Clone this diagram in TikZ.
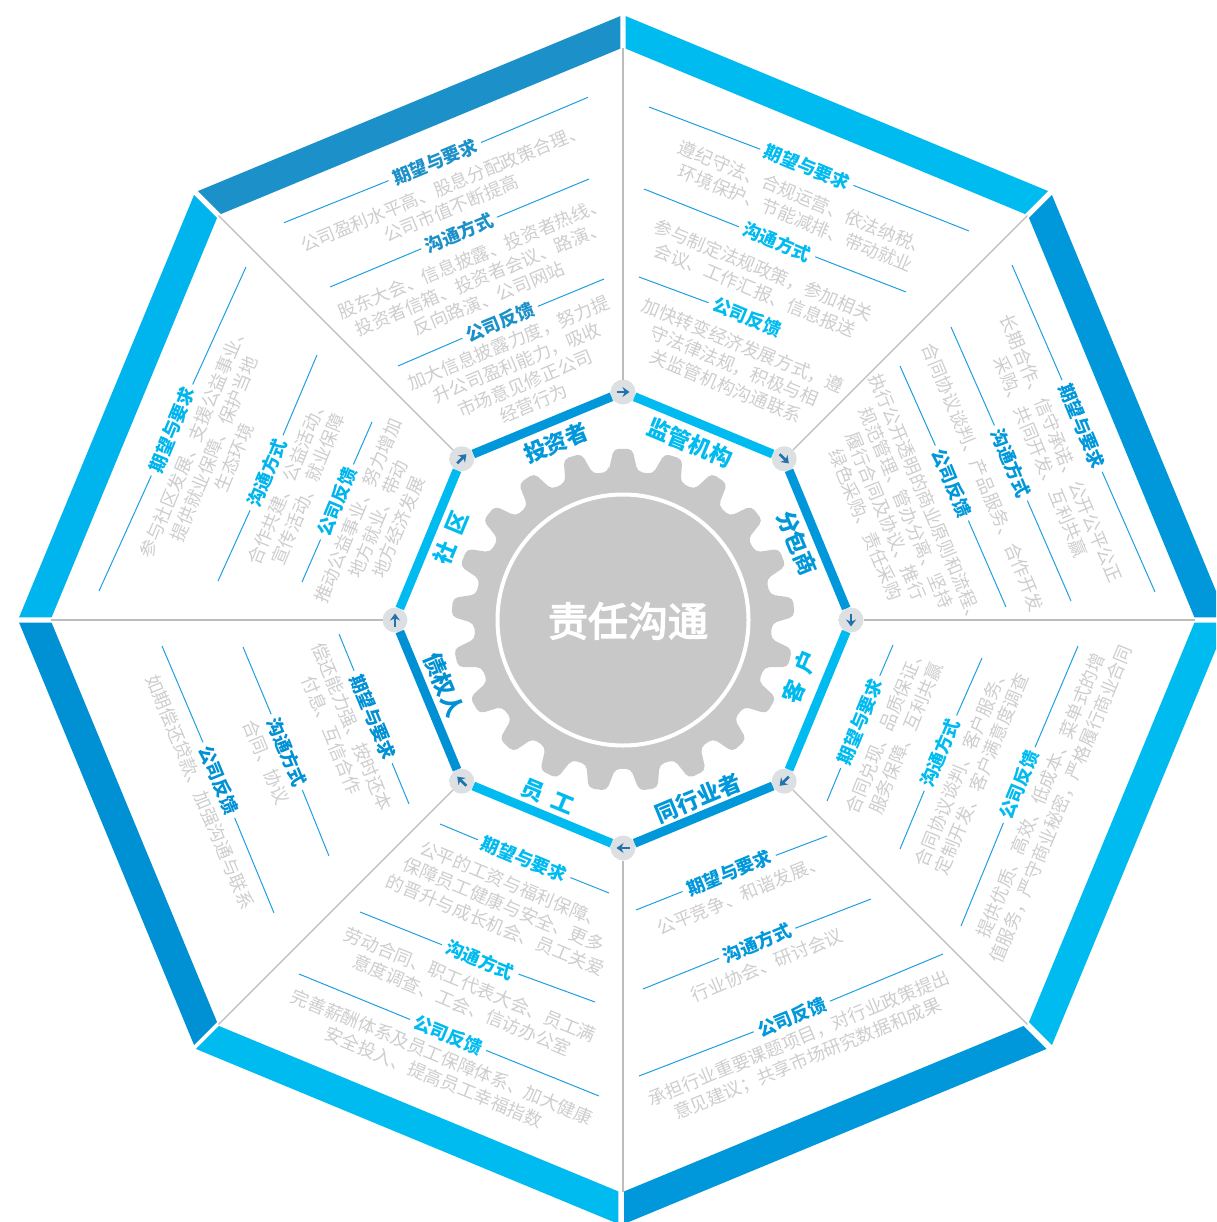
\documentclass[tikz,border=0pt]{standalone}
\usepackage{fontspec}
\usetikzlibrary{calc,arrows.meta}
\setmainfont{Noto Sans CJK SC}
\newfontfamily\cjkmed[FakeBold=3.5]{Noto Sans CJK SC}
\definecolor{cyanband}{HTML}{00BBF0}
\definecolor{blueband}{HTML}{0098DA}
\definecolor{creditband}{HTML}{0090D4}
\definecolor{commband}{HTML}{00B4EE}
\definecolor{investband}{HTML}{1C90C8}
\definecolor{rulecol}{HTML}{1E9FE0}
\definecolor{bodycol}{HTML}{CDCDCD}
\definecolor{spokecol}{HTML}{BDBDBD}
\definecolor{gearcol}{HTML}{C8C8C8}
\definecolor{arrowcol}{HTML}{2272AB}
\definecolor{nbgray}{HTML}{DDE0E3}
\definecolor{nbmid}{HTML}{F0F1F2}
\pgfdeclareradialshading{nodeball}{\pgfpointorigin}{color(0bp)=(nbgray);color(34bp)=(nbgray);color(41bp)=(nbmid);color(50bp)=(white)}
\tikzset{
  headtxt/.style={font=\fontsize{18}{20}\selectfont\bfseries,inner sep=0pt,outer sep=5pt},
  bodytxt/.style={font=\fontsize{18}{22}\selectfont,text=bodycol,align=center,inner sep=0pt},
  rulelin/.style={draw=rulecol,line width=1pt},
  spokelin/.style={draw=spokecol,line width=1.2pt},
  ballnode/.style={circle,shade,shading=nodeball,minimum size=25pt,inner sep=0pt,outer sep=0pt},
  arrowmk/.style={draw=arrowcol,line width=2.6pt,-{Stealth[length=7pt,width=10pt]}},
  stake/.style={font=\fontsize{22.5}{24}\selectfont\bfseries,inner sep=0pt},
  thinband/.style={line width=9pt}
}
\newcommand{\blk}[9]{%
  \node[headtxt,rotate=#2,text=#3] (#1) at (#4) {#5};
  \node[bodytxt,rotate=#2] (#1t) at (#6) {#7};
  \coordinate (#1a) at (#8);
  \coordinate (#1b) at (#9);
  \draw[rulelin] (#1a) -- (#1);
  \draw[rulelin] (#1b) -- (#1);
}
\newcommand{\ringband}[3]{%
  \pgfmathsetmacro{\ta}{-90+45*#1}
  \pgfmathsetmacro{\tb}{\ta+45}
  \coordinate (oa) at ([xshift=#3]\ta:605);
  \coordinate (ob) at ([xshift=#3]\tb:605);
  \coordinate (ia) at ([xshift=#3]\ta:572.5);
  \coordinate (ib) at ([xshift=#3]\tb:572.5);
  \fill[#2] ($(oa)!2.9pt!(ob)$) -- ($(ob)!2.9pt!(oa)$) -- ($(ib)!2.9pt!(ia)$) -- ($(ia)!2.9pt!(ib)$) -- cycle;
}
\begin{document}
\begin{tikzpicture}[x=1pt,y=-1pt]
\useasboundingbox (0,0) rectangle (1216,1222);
\clip (0,0) rectangle (1216,1222);
\begin{scope}[shift={(623,620)}]
  \ringband{0}{cyanband}{0pt}
  \ringband{1}{blueband}{0pt}
  \ringband{2}{cyanband}{0pt}
  \ringband{3}{blueband}{-1.5pt}
  \ringband{4}{cyanband}{-2pt}
  \ringband{5}{creditband}{0pt}
  \ringband{6}{commband}{0pt}
  \ringband{7}{investband}{0pt}
  % gear
  \fill[gearcol,rounded corners=5pt] (-95.6:149)
    \foreach \i [evaluate=\i as \a using -90+\i*360/21] in {0,...,20}{
      -- (\a-5.6:149) -- (\a-3.1:171.5) -- (\a+3.1:171.5) -- (\a+5.6:149)
    } -- cycle;
  \draw[white,line width=4pt] (0,0) circle (125.5);
  % nodes on the inner ring
  \node[ballnode] (n0) at (-90:228) {};
  \node[ballnode] (n1) at (-45:228) {};
  \node[ballnode] (n2) at (0:228) {};
  \node[ballnode] (n3) at (45:228) {};
  \node[ballnode] (n4) at (90:228) {};
  \node[ballnode] (n5) at (135:228) {};
  \node[ballnode] (n6) at (180:228) {};
  \node[ballnode] (n7) at (225:228) {};
  % spoke ends
  \coordinate (s0) at (-90:572);
  \coordinate (s1) at (-45:572);
  \coordinate (s2) at (0:572);
  \coordinate (s3) at (45:572);
  \coordinate (s4) at (90:572);
  \coordinate (s5) at (135:572);
  \coordinate (s6) at (180:572);
  \coordinate (s7) at (225:572);
\end{scope}
\foreach \k in {0,...,7}{\draw[spokelin] (n\k) -- (s\k);}
% inner ring connectors
\draw[thinband,cyanband] (n0) -- (n1);
\draw[thinband,blueband] (n1) -- (n2);
\draw[thinband,cyanband] (n2) -- (n3);
\draw[thinband,blueband] (n3) -- (n4);
\draw[thinband,cyanband] (n4) -- (n5);
\draw[thinband,creditband] (n5) -- (n6);
\draw[thinband,cyanband] (n6) -- (n7);
\draw[thinband,blueband] (n7) -- (n0);
% arrows in the nodes
\draw[arrowmk] ([shift={(180:6.5)}]n0.center) -- ([shift={(0:6.5)}]n0.center);
\draw[arrowmk] ([shift={(225:6.5)}]n1.center) -- ([shift={(45:6.5)}]n1.center);
\draw[arrowmk] ([shift={(270:6.5)}]n2.center) -- ([shift={(90:6.5)}]n2.center);
\draw[arrowmk] ([shift={(315:6.5)}]n3.center) -- ([shift={(135:6.5)}]n3.center);
\draw[arrowmk] ([shift={(0:6.5)}]n4.center) -- ([shift={(180:6.5)}]n4.center);
\draw[arrowmk] ([shift={(45:6.5)}]n5.center) -- ([shift={(225:6.5)}]n5.center);
\draw[arrowmk] ([shift={(90:6.5)}]n6.center) -- ([shift={(270:6.5)}]n6.center);
\draw[arrowmk] ([shift={(135:6.5)}]n7.center) -- ([shift={(315:6.5)}]n7.center);
% centre and stakeholder labels
\node[font=\fontsize{40}{44}\selectfont\cjkmed,text=white,inner sep=0pt] (centre) at (628,621) {责任沟通};
\node[stake,rotate=22.5,text=blueband] (l0) at (556,443) {投资者};
\node[stake,rotate=-22.5,text=cyanband] (l1) at (690,443) {监管机构};
\node[stake,rotate=-67.5,text=blueband] (l2) at (797,543) {分包商};
\node[stake,rotate=67.5,text=cyanband] (l3) at (800,677) {客\hspace{10pt}户};
\node[stake,rotate=22.5,text=blueband] (l4) at (698,798) {同行业者};
\node[stake,rotate=-22.5,text=cyanband] (l5) at (548,797) {员\hspace{10pt}工};
\node[stake,rotate=-67.5,text=creditband] (l6) at (444,685) {债权人};
\node[stake,rotate=67.5,text=cyanband] (l7) at (451,538) {社\hspace{10pt}区};
% investors
\blk{a1}{22.5}{investband}{435,162}{期望与要求}{447,198}{\fontsize{18}{25}\selectfont 公司盈利水平高、股息分配政策合理、\\公司市值不断提高}{284,222.7}{588,97.3}
\blk{a2}{22.5}{investband}{459,233}{沟通方式}{480.5,278}{股东大会、信息披露、投资者热线、\\投资者信箱、投资者会议、路演、\\反向路演、公司网站}{330,287}{589,179}
\blk{a3}{22.5}{investband}{500,322}{公司反馈}{521,373}{加大信息披露力度，努力提\\升公司盈利能力，吸收\\市场意见修正公司\\经营行为}{398,366}{604,279}
% regulators
\blk{b1}{-22.5}{cyanband}{807,167}{期望与要求}{800,208}{遵纪守法、合规运营、依法纳税、\\环境保护、节能减排、带动就业}{649,107}{969,231}
\blk{b2}{-22.5}{cyanband}{777,242}{沟通方式}{759,280}{参与制定法规政策，参加相关\\会议、工作汇报、信息报送}{644,189}{906,292}
\node[headtxt,rotate=-22.5,text=cyanband] (b3) at (747,317) {公司反馈};
\node[bodytxt,rotate=-22.5] (b3t) at (734.5,366) {加快转变经济发展方式，遵\\守法律法规，积极与相\\关监管机构沟通联系};
\coordinate (b3a) at (639,277);
\draw[rulelin] (b3a) -- (b3);
% subcontractors
\blk{c1}{-67.5}{blueband}{1082,426}{期望与要求}{1051,452.5}{长期合作、信守承诺、公开公平公正\\采购、共同开发、互利共赢}{1012,265}{1155,592}
\blk{c2}{-67.5}{blueband}{1011,463}{沟通方式}{983,477}{合同协议谈判、产品服务、合作开发}{951,327}{1071,601}
\blk{c3}{-67.5}{blueband}{952,483}{公司反馈}{896,512}{执行公开透明的商业原则和流程、\\规范管理、管办分离、坚持\\履行合同及协议、推行\\绿色采购、责任采购}{900,366}{1006,607}
% clients
\blk{d1}{67.5}{cyanband}{860,722}{期望与要求}{895.5,734}{合同兑现、品质保证、\\服务保障、互利共赢}{827,801}{893,645}
\blk{d2}{67.5}{cyanband}{940,753}{沟通方式}{971.5,770}{合同协议谈判、客户服务、\\定制开发、客户满意度调查}{900,849}{982,658}
\blk{d3}{67.5}{cyanband}{1019,785}{公司反馈}{1051,800}{提供优质、高效、低成本、菜单式的增\\值服务，严守商业秘密，严格履行商业合同}{961,926}{1078,646}
% peers
\blk{e1}{22.5}{blueband}{729,873}{期望与要求}{741,895}{公平竞争、和谐发展、}{636,910}{827,836}
\blk{e2}{22.5}{blueband}{757,943}{沟通方式}{767,965}{行业协会、研讨会议}{643,989}{871,899}
\blk{e3}{22.5}{blueband}{792,1017}{公司反馈}{803.5,1049}{承担行业重要课题项目，对行业政策提出\\意见建议；共享市场研究数据和成果}{639,1076}{943,954}
% employees
\blk{f1}{-22.5}{cyanband}{524,859}{期望与要求}{504,905}{公平的工资与福利保障、\\保障员工健康与安全、更多\\的晋升与成长机会、员工关爱}{440,824}{609,893}
\blk{f2}{-22.5}{cyanband}{480,960}{沟通方式}{466,995}{劳动合同、职工代表大会、员工满\\意度调查、工会、信访办公室}{360,912}{595,1002}
\blk{f3}{-22.5}{cyanband}{448,1035}{公司反馈}{438,1067}{完善薪酬体系及员工保障体系、加大健康\\安全投入、提高员工幸福指数}{299,974}{599,1096}
% creditors
\blk{g1}{-67.5}{creditband}{373,717}{期望与要求}{342,731}{偿还能力强、按时还本\\付息、互信合作}{339,634}{409,804}
\blk{g2}{-67.5}{creditband}{287,752}{沟通方式}{266,762}{合同、协议}{243,647}{329,856}
\blk{g3}{-67.5}{creditband}{219,780}{公司反馈}{200,792}{如期偿还贷款、加强沟通与联系}{162,646}{274,913}
% community
\blk{h1}{67.5}{commband}{172,430}{期望与要求}{214,449}{参与社区发展、支援公益事业、\\提供就业保障、保护当地\\生态环境}{99,591}{246,267}
\blk{h2}{67.5}{commband}{267,473}{沟通方式}{298,485}{合作共建、公益活动、\\宣传活动、就业保障}{218,581}{317,355}
\blk{h3}{67.5}{commband}{337,502}{公司反馈}{378,519}{推动公益事业、努力增加\\地方就业、带动\\地方经济发展}{302,582}{372,422}
\end{tikzpicture}
\end{document}
